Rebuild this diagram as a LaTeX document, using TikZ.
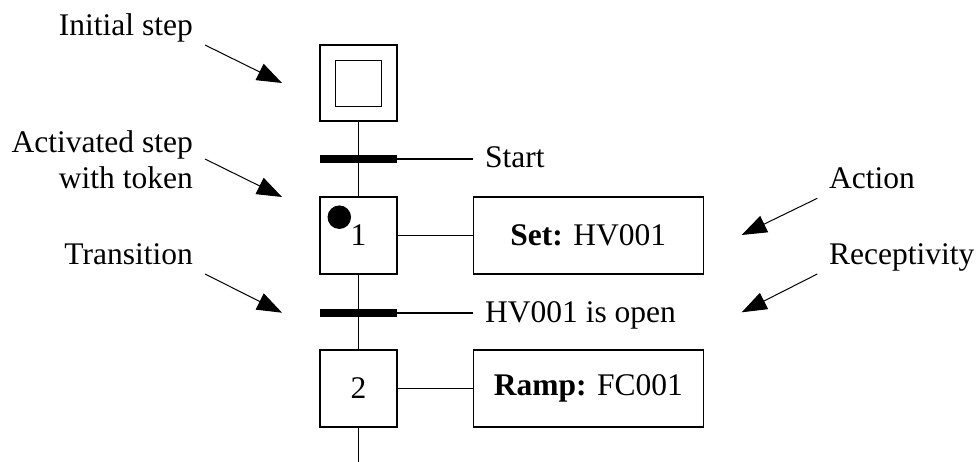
\documentclass[tikz,border=0pt]{standalone}
\usepackage{fontspec}
\setmainfont{Liberation Serif}
\usetikzlibrary{arrows.meta}
\begin{document}
\begin{tikzpicture}[x=1pt,y=-1pt,
  every node/.style={font=\fontsize{31.5}{36.3}\selectfont},
  stepbox/.style={draw, line width=1.2pt, minimum width=77pt, minimum height=77pt, inner sep=0pt},
  actbox/.style={draw, line width=1.2pt, minimum width=230pt, minimum height=77pt, inner sep=0pt},
  bar/.style={fill=black, draw=none, minimum width=77pt, minimum height=8.3pt, inner sep=0pt},
  lbl/.style={inner sep=0pt},
  link/.style={line width=1.1pt},
  pointer/.style={line width=1pt, -{Triangle[length=25pt,width=18pt]}}
]
\useasboundingbox (0,0) rectangle (978,462);

% steps
\node[stepbox, minimum height=76pt] (init) at (358.5,83) {};
\node[draw, line width=1.2pt, minimum width=46.5pt, minimum height=46pt, inner sep=0pt] (initin) at (358.5,83.7) {};
\node[bar] (t1) at (358.5,159) {};
\node[stepbox] (s1) at (358.5,235.5) {1};
\node[circle, fill=black, minimum size=23.5pt, inner sep=0pt] (tok) at (339.3,217.2) {};
\node[bar] (t2) at (358.5,313) {};
\node[stepbox] (s2) at (358.5,388.5) {2};
\coordinate (tail) at (358.5,462);

% actions
\node[actbox] (a1) at (588.3,235.5) {\textbf{Set:} HV001};
\node[actbox] (a2) at (588.3,388.5) {\textbf{Ramp:} FC001};

% connectors
\draw[link] (init.south) -- (s1.north);
\draw[link] (s1.south) -- (s2.north);
\draw[link] (s2.south) -- (tail);
\draw[link] (t1.east) -- (t1.east -| a1.west);
\draw[link] (t2.east) -- (t2.east -| a1.west);
\draw[link] (s1) -- (a1);
\draw[link] (s2) -- (a2);

% labels
\node[lbl, anchor=base east] (linit) at (193,35.7) {Initial step};
\node[lbl, anchor=north east, align=right] (lact) at (193,130.2) {Activated step\\with token};
\node[lbl, anchor=base east] (ltrans) at (193,265) {Transition};
\node[lbl, anchor=base west] (lstart) at (485,168) {Start};
\node[lbl, anchor=base west] (lopen) at (485,323) {HV001 is open};
\node[lbl, anchor=base west] (laction) at (829,189) {Action};
\node[lbl, anchor=base west] (lrecept) at (829,265) {Receptivity};

% pointer arrows
\coordinate (p1a) at (205,45);   \coordinate (p1b) at (282,83);
\coordinate (p2a) at (205,159);  \coordinate (p2b) at (282,197);
\coordinate (p3a) at (205,274);  \coordinate (p3b) at (282,312.7);
\coordinate (p4a) at (817.3,198.3); \coordinate (p4b) at (741.7,235);
\coordinate (p5a) at (817.3,274);   \coordinate (p5b) at (741.7,312.3);
\draw[pointer] (p1a) -- (p1b);
\draw[pointer] (p2a) -- (p2b);
\draw[pointer] (p3a) -- (p3b);
\draw[pointer] (p4a) -- (p4b);
\draw[pointer] (p5a) -- (p5b);
\end{tikzpicture}
\end{document}
